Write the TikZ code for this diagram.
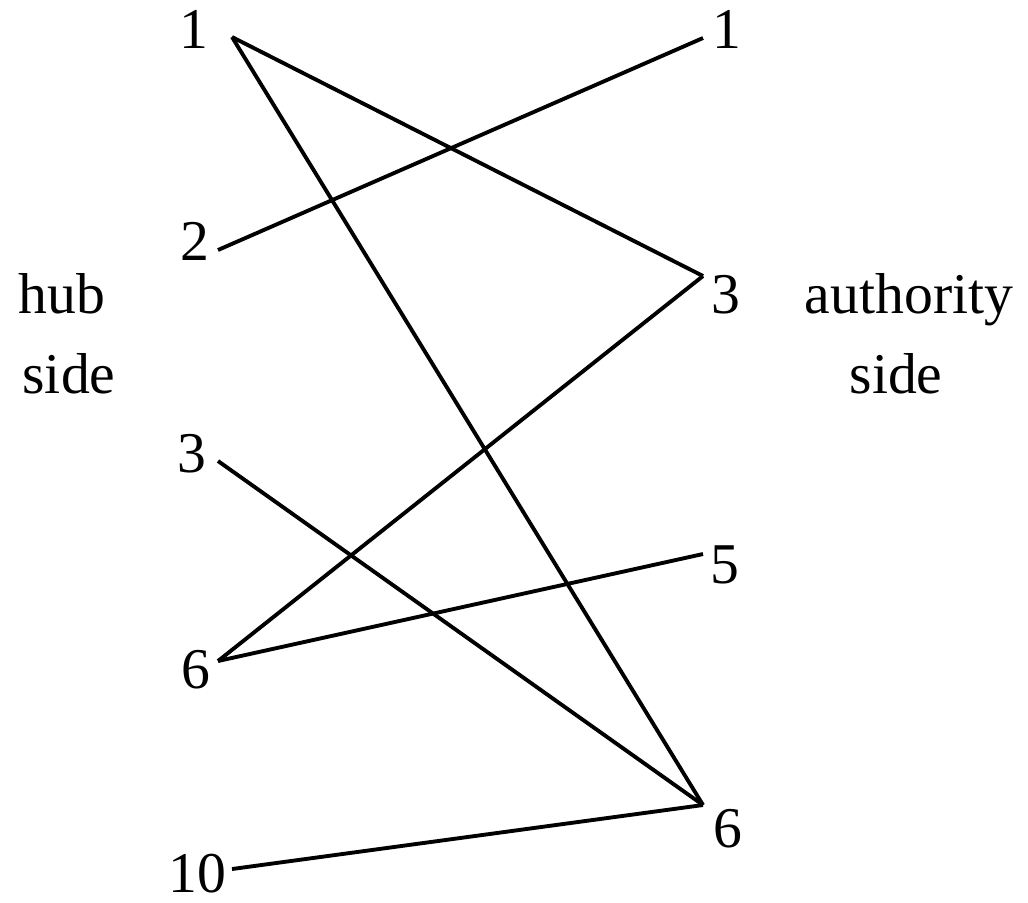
\documentclass[tikz,border=0pt]{standalone}
\usepackage{fontspec}
\setmainfont{Liberation Serif}
\begin{document}
\begin{tikzpicture}[x=0.01cm,y=-0.01cm,font=\fontsize{16.4}{20}\selectfont,
  lbl/.style={anchor=base,inner sep=0pt},
  edge/.style={line width=1.1pt}]
\useasboundingbox (0,0) rectangle (1028,902);
% hub side
\node[lbl] (h1) at (194,48) {1};
\node[lbl] (h2) at (195,260) {2};
\node[lbl] (h3) at (192,472) {3};
\node[lbl] (h6) at (196,688) {6};
\node[lbl] (h10) at (197,892) {10};
\node[lbl] (hub) at (62,313) {hub};
\node[lbl] (hubside) at (69,393) {side};
% authority side
\node[lbl] (a1) at (727,48) {1};
\node[lbl] (a3) at (726,313) {3};
\node[lbl] (a5) at (725,583) {5};
\node[lbl] (a6) at (728,847) {6};
\node[lbl] (auth) at (909,313) {authority};
\node[lbl] (authside) at (896,393) {side};
% ends of the links
\coordinate (h1p) at (232,37);
\coordinate (h2p) at (218,250);
\coordinate (h3p) at (218,461);
\coordinate (h6p) at (218,661);
\coordinate (h10p) at (232,869);
\coordinate (a1p) at (703,38);
\coordinate (a3p) at (703,276);
\coordinate (a5p) at (703,554);
\coordinate (a6p) at (703,805);
% links
\draw[edge] (h1p) -- (a3p);
\draw[edge] (h1p) -- (a6p);
\draw[edge] (h2p) -- (a1p);
\draw[edge] (h3p) -- (a6p);
\draw[edge] (h6p) -- (a3p);
\draw[edge] (h6p) -- (a5p);
\draw[edge] (h10p) -- (a6p);
\end{tikzpicture}
\end{document}
